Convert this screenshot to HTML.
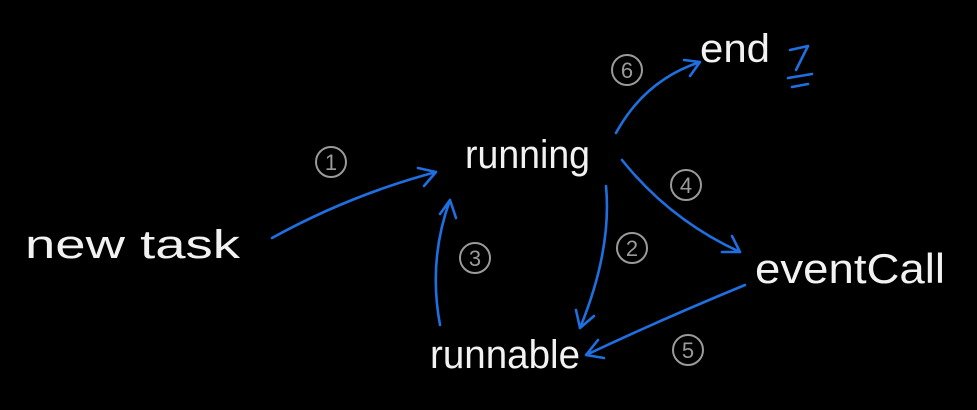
<!DOCTYPE html>
<html><head><style>
html,body{margin:0;padding:0;background:#000;width:977px;height:410px;overflow:hidden}
svg{display:block}
.t{font-family:"Liberation Sans",sans-serif;fill:#f2f2f2;font-weight:300}
.n{fill:none;stroke:#9a9a9a;stroke-width:2}
.nt{font-family:"Liberation Sans",sans-serif;fill:#9a9a9a;font-size:22px;text-anchor:middle}
.a{fill:none;stroke:#1f6fe0;stroke-width:2.6;stroke-linecap:round;stroke-linejoin:round}
</style></head><body>
<svg width="977" height="410" viewBox="0 0 977 410">
<text class="t" x="25" y="258" font-size="40" textLength="215" lengthAdjust="spacingAndGlyphs">new task</text>
<text class="t" x="465" y="168" font-size="40" textLength="125" lengthAdjust="spacingAndGlyphs">running</text>
<text class="t" x="700" y="62" font-size="40" textLength="70" lengthAdjust="spacingAndGlyphs">end</text>
<text class="t" x="755" y="283" font-size="42" textLength="190" lengthAdjust="spacingAndGlyphs">eventCall</text>
<text class="t" x="430" y="368" font-size="40" textLength="150" lengthAdjust="spacingAndGlyphs">runnable</text>
<path class="a" d="M790 50 L808 46 L796 70 M788 78 L812 74 M792 87 L808 84"/>
<circle class="n" cx="331" cy="162" r="15"/><text class="nt" x="331" y="170">1</text>
<circle class="n" cx="627" cy="70" r="15"/><text class="nt" x="627" y="78">6</text>
<circle class="n" cx="686" cy="185" r="15"/><text class="nt" x="686" y="193">4</text>
<circle class="n" cx="632" cy="248" r="15"/><text class="nt" x="632" y="256">2</text>
<circle class="n" cx="475" cy="258" r="15"/><text class="nt" x="475" y="266">3</text>
<circle class="n" cx="688" cy="350" r="15"/><text class="nt" x="688" y="358">5</text>
<path class="a" d="M272 238 Q350 195 436 172 M418 168 L436 172 L424 186"/>
<path class="a" d="M440 325 Q428 260 450 200 M440 214 L450 200 L456 218"/>
<path class="a" d="M616 133 Q645 80 700 62 M684 60 L700 62 L690 76"/>
<path class="a" d="M622 160 Q670 220 740 252 M722 252 L740 252 L732 236"/>
<path class="a" d="M606 186 Q612 250 580 328 M576 310 L580 328 L594 316"/>
<path class="a" d="M745 285 Q660 320 586 355 M598 340 L586 355 L604 358"/>
</svg>
</body></html>
